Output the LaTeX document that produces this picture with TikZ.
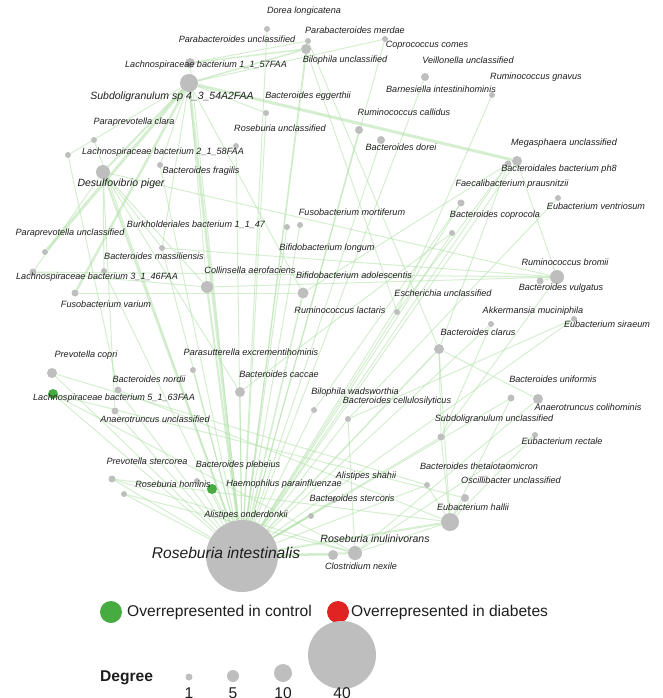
\documentclass[tikz,border=0pt]{standalone}
\usepackage{fontspec}
\setmainfont{Liberation Sans}
\usetikzlibrary{backgrounds}
\definecolor{ngrey}{RGB}{190,190,190}
\definecolor{ngreen}{RGB}{70,172,66}
\definecolor{nred}{RGB}{226,35,35}
\definecolor{edg}{RGB}{176,224,167}
\definecolor{txt}{RGB}{30,30,30}
\tikzset{
 nd/.style={circle, fill=ngrey, draw=none, inner sep=0pt, minimum size=#1},
 gn/.style={circle, fill=ngreen, draw=none, inner sep=0pt, minimum size=#1},
 lb/.style={font=\fontsize{9.1}{10}\selectfont\itshape, text=txt, inner sep=0pt},
 lbm/.style={font=\fontsize{10.5}{12}\selectfont\itshape, text=txt, inner sep=0pt},
 lbb/.style={font=\fontsize{15.6}{18}\selectfont\itshape, text=txt, inner sep=0pt},
 leg/.style={font=\fontsize{15.6}{18}\selectfont, text=txt, inner sep=0pt},
 ed/.style={draw=edg, line width=1pt, opacity=0.55},
 ew/.style={draw=edg, line width=#1, opacity=0.55},
}
\begin{document}
\begin{tikzpicture}[x=1pt,y=-1pt]
\useasboundingbox (0,0) rectangle (663,698);
% ---------- nodes ----------
\node[nd=6pt] (dor) at (267,29) {};
\node[nd=6pt] (pbm) at (308,41) {};
\node[nd=10pt] (bilu) at (306,49) {};
\node[nd=6pt] (cop) at (385,39) {};
\node[nd=8pt] (vei) at (425,77) {};
\node[nd=6pt] (bar) at (492,95) {};
\node[nd=10pt] (l157) at (190,63) {};
\node[nd=18pt] (sub) at (189,83) {};
\node[nd=6pt] (begg) at (266,113) {};
\node[nd=8pt] (rcal) at (359,130) {};
\node[nd=8pt] (bdor) at (381,140) {};
\node[nd=6pt] (ppc) at (94,140) {};
\node[nd=6pt] (l258) at (68,155) {};
\node[nd=6pt] (rosu) at (236,146) {};
\node[nd=6pt] (bfra) at (160,165) {};
\node[nd=14pt] (des) at (103,172) {};
\node[nd=10pt] (meg) at (517,161) {};
\node[nd=7pt] (bph8) at (508,164) {};
\node[nd=6pt] (ven) at (558,198) {};
\node[nd=7pt] (fae) at (461,203) {};
\node[nd=6pt] (bcop) at (452,233) {};
\node[nd=6pt] (fmor) at (300,225) {};
\node[nd=6pt] (burk) at (287,227) {};
\node[nd=6pt] (ppu) at (45,252) {};
\node[nd=6pt] (bmas) at (162,248) {};
\node[nd=7pt] (l346) at (33,272) {};
\node[nd=6pt] (aa) at (104,271) {};
\node[nd=12pt] (col) at (207,287) {};
\node[nd=11pt] (bado) at (303,293) {};
\node[nd=14pt] (rbro) at (557,277) {};
\node[nd=7pt] (bvul) at (540,281) {};
\node[nd=7pt] (fvar) at (75,293) {};
\node[nd=6pt] (esc) at (397,312) {};
\node[nd=6pt] (akk) at (491,324) {};
\node[nd=6pt] (esir) at (574,319) {};
\node[nd=10pt] (bcla) at (439,349) {};
\node[nd=6pt] (par) at (193,370) {};
\node[nd=10pt] (pcop) at (52,373) {};
\node[nd=7pt] (bnor) at (118,390) {};
\node[gn=10pt] (l563) at (53,394) {};
\node[nd=7pt] (anu) at (115,411) {};
\node[nd=10pt] (bcac) at (240,392) {};
\node[nd=7pt] (buni) at (511,398) {};
\node[nd=10pt] (acol) at (538,399) {};
\node[nd=6pt] (bwad) at (314,410) {};
\node[nd=6pt] (bcel) at (348,419) {};
\node[nd=7pt] (subu) at (441,437) {};
\node[nd=6pt] (erec) at (535,435) {};
\node[nd=7pt] (pste) at (112,479) {};
\node[nd=6pt] (pst2) at (124,494) {};
\node[nd=6pt] (rhom) at (197,481) {};
\node[gn=10pt] (hae) at (212,489) {};
\node[nd=6pt] (bthe) at (427,485) {};
\node[nd=8pt] (osc) at (465,498) {};
\node[nd=6pt] (bste) at (334,500) {};
\node[nd=6pt] (alon) at (311,516) {};
\node[nd=18pt] (ehal) at (450,522) {};
\node[nd=72pt] (rint) at (242,556) {};
\node[nd=14pt] (rinu) at (355,553) {};
\node[nd=10pt] (cnex) at (333,555) {};
% ---------- edges ----------
\begin{pgfonlayer}{background}
\foreach \n in {dor,pbm,bilu,cop,vei,l157,begg,rcal,bdor,rosu,bfra,meg,bph8,fae,bcop,fmor,burk,bmas,aa,esc,akk,esir,par,pcop,bnor,l563,anu,bcac,bwad,bcel,subu,pste,pst2,rhom,hae,bthe,bste,alon,cnex,ppc,buni}
  {\draw[ed] (rint) -- (\n);}
\draw[ew=2.5pt] (rint) -- (sub);
\draw[ew=2pt] (rint) -- (des);
\draw[ew=2pt] (rint) -- (col);
\draw[ew=1.6pt] (rint) -- (bado);
\draw[ew=2pt] (rint) -- (ehal);
\draw[ew=2pt] (rint) -- (rinu);
\draw[ew=1.6pt] (rint) -- (bcla);
\draw[ew=3pt] (sub) -- (meg);
\draw[ew=3pt] (sub) -- (ppu);
\draw[ew=2.5pt] (sub) -- (fvar);
\draw[ew=2pt] (sub) -- (des);
\draw[ew=1.5pt] (sub) -- (bilu);
\draw[ed] (sub) -- (col);
\draw[ed] (sub) -- (bmas);
\draw[ed] (sub) -- (bfra);
\draw[ed] (sub) -- (l258);
\draw[ed] (sub) -- (cop);
\draw[ed] (sub) -- (begg);
\draw[ed] (sub) -- (bado);
\draw[ew=1.5pt] (l157) -- (bilu);
\draw[ed] (l157) -- (pbm);
\draw[ed] (des) -- (rbro);
\draw[ed] (des) -- (col);
\draw[ed] (des) -- (bmas);
\draw[ed] (des) -- (l346);
\draw[ed] (des) -- (aa);
\draw[ed] (des) -- (anu);
\draw[ed] (des) -- (bcac);
\draw[ed] (meg) -- (rbro);
\draw[ed] (bph8) -- (bcla);
\draw[ed] (bph8) -- (bado);
\draw[ed] (bph8) -- (esc);
\draw[ed] (rbro) -- (bvul);
\draw[ed] (rbro) -- (col);
\draw[ed] (rbro) -- (bmas);
\draw[ed] (rbro) -- (subu);
\draw[ed] (rbro) -- (l346);
\draw[ed] (fvar) -- (bado);
\draw[ed] (ehal) -- (subu);
\draw[ed] (ehal) -- (osc);
\draw[ed] (ehal) -- (bthe);
\draw[ed] (ehal) -- (bcla);
\draw[ed] (ehal) -- (rinu);
\draw[ed] (ehal) -- (buni);
\draw[ed] (ehal) -- (bnor);
\draw[ed] (ehal) -- (pste);
\draw[ed] (ehal) -- (erec);
\draw[ed] (rinu) -- (erec);
\draw[ed] (rinu) -- (pste);
\draw[ed] (rinu) -- (pst2);
\draw[ed] (rinu) -- (bcel);
\draw[ed] (rinu) -- (l563);
\draw[ed] (rinu) -- (acol);
\draw[ed] (ven) -- (bcel);
\draw[ed] (bar) -- (esc);
\draw[ed] (bilu) -- (esc);
\draw[ed] (pbm) -- (bcla);
\draw[ed] (pcop) -- (bthe);
\draw[ed] (l563) -- (osc);
\draw[ed] (l258) -- (bnor);
\draw[ed] (bcla) -- (acol);
\draw[ed] (bcla) -- (subu);
\draw[ed] (col) -- (l346);
\draw[ed] (akk) -- (subu);
\draw[ed] (fae) -- (bwad);
\draw[ed] (bcop) -- (bcac);
\draw[ed] (esir) -- (bcel);
\end{pgfonlayer}
% ---------- labels ----------
\node[lb] (t1) at (304,11) {Dorea longicatena};
\node[lb] (t2) at (237,39) {Parabacteroides unclassified};
\node[lb] (t3) at (355,30) {Parabacteroides merdae};
\node[lb] (t4) at (427,45) {Coprococcus comes};
\node[lb] (t5) at (345,60) {Bilophila unclassified};
\node[lb] (t6) at (468,60) {Veillonella unclassified};
\node[lb] (t7) at (206,65) {Lachnospiraceae bacterium 1\_1\_57FAA};
\node[lb] (t8) at (536,77) {Ruminococcus gnavus};
\node[lb] (t9) at (441,89) {Barnesiella intestinihominis};
\node[lbm] (t10) at (172,97) {Subdoligranulum sp 4\_3\_54A2FAA};
\node[lb] (t11) at (308,96) {Bacteroides eggerthii};
\node[lb] (t12) at (404,112) {Ruminococcus callidus};
\node[lb] (t13) at (134,122) {Paraprevotella clara};
\node[lb] (t14) at (280,128) {Roseburia unclassified};
\node[lb] (t15) at (564,143) {Megasphaera unclassified};
\node[lb] (t16) at (401,147) {Bacteroides dorei};
\node[lb] (t17) at (163,152) {Lachnospiraceae bacterium 2\_1\_58FAA};
\node[lb] (t18) at (559,169) {Bacteroidales bacterium ph8};
\node[lb] (t19) at (201,171) {Bacteroides fragilis};
\node[lbm] (t20) at (121,184) {Desulfovibrio piger};
\node[lb] (t21) at (512,184) {Faecalibacterium prausnitzii};
\node[lb] (t22) at (596,206) {Eubacterium ventriosum};
\node[lb] (t23) at (352,212) {Fusobacterium mortiferum};
\node[lb] (t24) at (495,215) {Bacteroides coprocola};
\node[lb] (t25) at (196,225) {Burkholderiales bacterium 1\_1\_47};
\node[lb] (t26) at (70,233) {Paraprevotella unclassified};
\node[lb] (t27) at (327,248) {Bifidobacterium longum};
\node[lb] (t28) at (154,256) {Bacteroides massiliensis};
\node[lb] (t29) at (565,262) {Ruminococcus bromii};
\node[lb] (t30) at (250,270) {Collinsella aerofaciens};
\node[lb] (t31) at (354,275) {Bifidobacterium adolescentis};
\node[lb] (t32) at (97,277) {Lachnospiraceae bacterium 3\_1\_46FAA};
\node[lb] (t33) at (561,288) {Bacteroides vulgatus};
\node[lb] (t34) at (443,293) {Escherichia unclassified};
\node[lb] (t35) at (106,304) {Fusobacterium varium};
\node[lb] (t36) at (340,310) {Ruminococcus lactaris};
\node[lb] (t37) at (533,311) {Akkermansia muciniphila};
\node[lb] (t38) at (607,324) {Eubacterium siraeum};
\node[lb] (t39) at (478,332) {Bacteroides clarus};
\node[lb] (t40) at (251,352) {Parasutterella excrementihominis};
\node[lb] (t41) at (86,355) {Prevotella copri};
\node[lb] (t42) at (279,374) {Bacteroides caccae};
\node[lb] (t43) at (149,379) {Bacteroides nordii};
\node[lb] (t44) at (553,379) {Bacteroides uniformis};
\node[lb] (t45) at (355,392) {Bilophila wadsworthia};
\node[lb] (t46) at (114,398) {Lachnospiraceae bacterium 5\_1\_63FAA};
\node[lb] (t47) at (397,401) {Bacteroides cellulosilyticus};
\node[lb] (t48) at (588,407) {Anaerotruncus colihominis};
\node[lb] (t49) at (155,419) {Anaerotruncus unclassified};
\node[lb] (t50) at (494,419) {Subdoligranulum unclassified};
\node[lb] (t51) at (562,441) {Eubacterium rectale};
\node[lb] (t52) at (147,461) {Prevotella stercorea};
\node[lb] (t53) at (238,465) {Bacteroides plebeius};
\node[lb] (t54) at (479,466) {Bacteroides thetaiotaomicron};
\node[lb] (t55) at (366,476) {Alistipes shahii};
\node[lb] (t56) at (511,480) {Oscillibacter unclassified};
\node[lb] (t57) at (173,484) {Roseburia hominis};
\node[lb] (t58) at (284,484) {Haemophilus parainfluenzae};
\node[lb] (t59) at (352,498) {Bacteroides stercoris};
\node[lb] (t60) at (473,507) {Eubacterium hallii};
\node[lb] (t61) at (246,515) {Alistipes onderdonkii};
\node[lbm] (t62) at (375,539) {Roseburia inulinivorans};
\node[lbb] (t63) at (226,553) {Roseburia intestinalis};
\node[lb] (t64) at (361,566) {Clostridium nexile};
% ---------- legend ----------
\node[gn=22pt] (lg1) at (111,612) {};
\node[leg, anchor=west] (lgt1) at (127,612) {Overrepresented in control};
\node[circle, fill=nred, inner sep=0pt, minimum size=22pt] (lg2) at (338,612) {};
\node[leg, anchor=west] (lgt2) at (351,612) {Overrepresented in diabetes};
\node[leg, anchor=west, font=\fontsize{15.6}{18}\selectfont\bfseries] (dg) at (100,678) {Degree};
\node[nd=7pt] (d1) at (189,677) {};
\node[nd=12pt] (d5) at (233,676) {};
\node[nd=18pt] (d10) at (283,673) {};
\node[nd=68pt] (d40) at (342,655) {};
\node[leg] (n1) at (189,693) {1};
\node[leg] (n5) at (233,693) {5};
\node[leg] (n10) at (283,693) {10};
\node[leg] (n40) at (342,693) {40};
\end{tikzpicture}
\end{document}
